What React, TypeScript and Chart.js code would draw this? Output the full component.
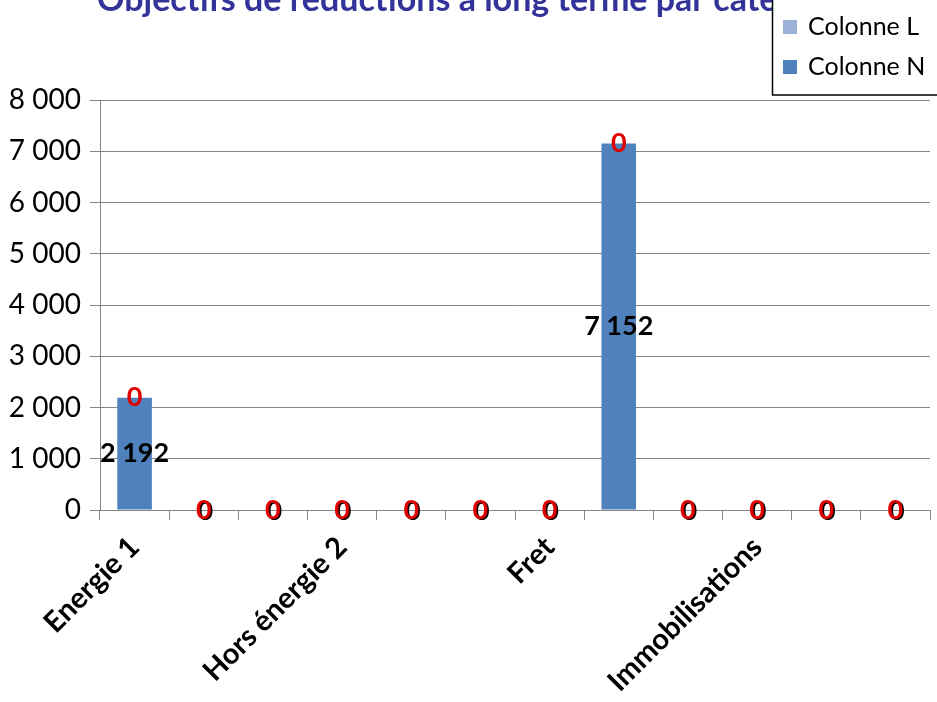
import React, { useEffect, useRef } from "react";
import { Chart, registerables } from "chart.js";

Chart.register(...registerables);

const categories = ["Energie 1", "", "", "Hors énergie 2", "", "", "Fret", "", "", "Immobilisations", "", ""];
const colonneN = [2192, 0, 0, 0, 0, 0, 0, 7152, 0, 0, 0, 0];
const colonneL = [0, 0, 0, 0, 0, 0, 0, 0, 0, 0, 0, 0];
const seriesNames = ["Colonne L", "Colonne N"];
const titleText = "Objectifs de réductions à long terme par catégorie";
const yMin = 0;
const yMax = 8000;
const yStep = 1000;

const FONT = "Lato, 'Open Sans', sans-serif";
const COLOR_N = "#4F81BD";
const COLOR_L = "#9BB1D7";

function fmt(v: number): string {
  const s = Math.round(v).toString();
  return s.replace(/\B(?=(\d{3})+(?!\d))/g, " ");
}

const overlayPlugin = {
  id: "overlay",
  afterDatasetsDraw(chart: any) {
    const ctx = chart.ctx;
    ctx.save();
    ctx.textAlign = "center";
    ctx.textBaseline = "middle";
    ctx.font = `bold 27px ${FONT}`;
    const metaN = chart.getDatasetMeta(0);
    metaN.data.forEach((el: any, i: number) => {
      const v = colonneN[i];
      const y = (el.y + el.base) / 2;
      ctx.fillStyle = "#000000";
      if (v === 0) ctx.fillText(fmt(v), el.x + 1.5, y + 1.5);
      else ctx.fillText(fmt(v), el.x, y);
    });
    const metaL = chart.getDatasetMeta(1);
    metaL.data.forEach((el: any, i: number) => {
      ctx.fillStyle = "#E00000";
      ctx.fillText(fmt(colonneL[i]), el.x, el.y);
    });
    ctx.restore();
  },
  afterDraw(chart: any) {
    const ctx = chart.ctx;
    ctx.save();
    ctx.font = `bold 34px ${FONT}`;
    ctx.fillStyle = "#333399";
    ctx.textAlign = "left";
    ctx.textBaseline = "alphabetic";
    ctx.fillText(titleText, 97, 11);
    ctx.fillStyle = "#FFFFFF";
    ctx.fillRect(772, -10, 170, 105);
    ctx.strokeStyle = "#000000";
    ctx.lineWidth = 1.5;
    ctx.strokeRect(772.5, -10, 170, 105);
    ctx.font = `25px ${FONT}`;
    ctx.textBaseline = "middle";
    const items = [
      { name: seriesNames[0], color: COLOR_L, y: 27 },
      { name: seriesNames[1], color: COLOR_N, y: 67 },
    ];
    items.forEach((it) => {
      ctx.fillStyle = it.color;
      ctx.fillRect(783, it.y - 7, 14, 14);
      ctx.fillStyle = "#000000";
      ctx.fillText(it.name, 808, it.y);
    });
    ctx.restore();
  },
};

export default function App() {
  const ref = useRef<HTMLCanvasElement>(null);
  useEffect(() => {
    if (!ref.current) return;
    const chart = new Chart(ref.current, {
      type: "bar",
      data: {
        labels: categories,
        datasets: [
          {
            label: seriesNames[1],
            data: colonneN,
            backgroundColor: COLOR_N,
            categoryPercentage: 1,
            barPercentage: 0.5,
          },
          {
            label: seriesNames[0],
            data: colonneL,
            backgroundColor: COLOR_L,
            categoryPercentage: 1,
            barPercentage: 0.5,
          },
        ],
      },
      options: {
        animation: false,
        responsive: true,
        maintainAspectRatio: false,
        layout: { padding: { top: 100, right: 7, left: 0, bottom: 0 } },
        plugins: {
          legend: { display: false },
          title: { display: false },
          tooltip: { enabled: false },
        },
        scales: {
          x: {
            stacked: true,
            offset: true,
            grid: {
              offset: true,
              drawOnChartArea: false,
              drawTicks: true,
              tickLength: 10,
              color: "#868686",
              lineWidth: 1,
            },
            border: { color: "#868686", width: 1 },
            ticks: {
              autoSkip: false,
              maxRotation: 45,
              minRotation: 45,
              color: "#000000",
              font: { family: FONT, size: 29, weight: "bold" },
              padding: 10,
            },
            afterFit: (s: any) => {
              s.height = 192;
            },
          },
          y: {
            stacked: true,
            min: yMin,
            max: yMax,
            ticks: {
              stepSize: yStep,
              color: "#000000",
              font: { family: FONT, size: 28 },
              padding: 9,
              callback: (v: any) => fmt(Number(v)),
            },
            grid: {
              color: "#868686",
              lineWidth: 1,
              drawTicks: true,
              tickLength: 10,
            },
            border: { color: "#868686", width: 1 },
            afterFit: (s: any) => {
              s.width = 100;
            },
          },
        },
      },
      plugins: [overlayPlugin],
    });
    return () => chart.destroy();
  }, []);
  return (
    <div style={{ position: "absolute", left: 0, top: 0, width: 937, height: 702, background: "#FFFFFF" }}>
      <canvas ref={ref} />
    </div>
  );
}
